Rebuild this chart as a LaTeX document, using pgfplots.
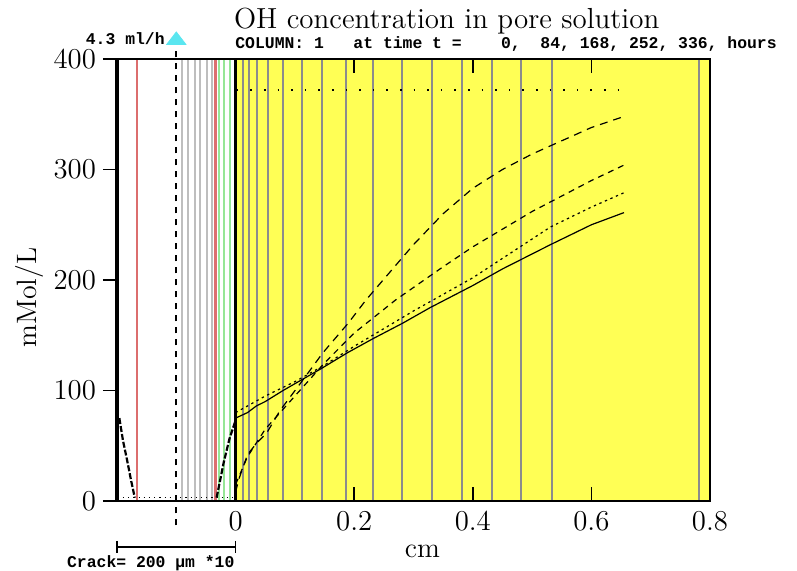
\documentclass[border=0pt]{standalone}
\usepackage{fontspec}
\setmonofont{Liberation Mono}
\usepackage{pgfplots}
\pgfplotsset{compat=1.18}
\definecolor{zoneyellow}{RGB}{255,255,85}
\definecolor{lgray}{RGB}{190,190,190}
\definecolor{mgray}{RGB}{140,140,140}
\definecolor{lred}{RGB}{220,110,110}
\definecolor{lgreen}{RGB}{150,230,150}
\definecolor{flowcyan}{RGB}{90,230,240}
\begin{document}
\begin{tikzpicture}
\begin{axis}[
    width=296.5pt, height=221pt, scale only axis,
    xmin=-0.2, xmax=0.8, ymin=0, ymax=400,
    xtick={0,0.2,0.4,0.6,0.8},
    ytick={0,100,200,300,400},
    xtick align=inside, ytick align=outside, ytick pos=left,
    major tick length=7pt,
    tick style={black, line width=0.8pt},
    tick label style={font=\fontsize{14}{16}\selectfont},
    xticklabel style={/pgf/number format/fixed, yshift=-2pt},
    axis line style={line width=0.8pt},
    xlabel={cm}, ylabel={mMol/L},
    label style={font=\fontsize{14}{16}\selectfont},
    xlabel style={at={(axis description cs:0.515,-0.113)}, anchor=center},
    ylabel style={at={(axis description cs:-0.147,0.46)}, anchor=center},
    clip=false,
    axis on top,
]
% concrete zone
\addplot[fill=zoneyellow, draw=none] coordinates {(0,0)(0.8,0)(0.8,400)(0,400)} \closedcycle;

% mesh lines in the crack
\pgfplotsinvokeforeach{-0.0896,-0.0795,-0.0693,-0.0592,-0.049,-0.0406}{
  \addplot[lgray, line width=1pt] coordinates {(#1,0)(#1,400)};
}
\addplot[lred, line width=0.7pt] coordinates {(-0.166,0)(-0.166,400)};
\addplot[lred, line width=1.6pt] coordinates {(-0.034,0)(-0.034,400)};
\pgfplotsinvokeforeach{-0.0287,-0.0203,-0.0101}{
  \addplot[lgreen, line width=1pt] coordinates {(#1,0)(#1,400)};
}
% mesh lines in the concrete
\pgfplotsinvokeforeach{0.0118,0.022,0.0355,0.054,0.0795,0.1116,0.145,0.186,0.232,0.281,0.331,0.382,0.433,0.482,0.533,0.781}{
  \addplot[mgray, line width=1pt] coordinates {(#1,0)(#1,400)};
}
\addplot[black, line width=1.6pt] coordinates {(-0.2,0)(-0.2,400)};
\addplot[black, line width=1.6pt] coordinates {(0,0)(0,400)};

% inflow position
\addplot[black, line width=0.8pt, dashed] coordinates {(-0.1,-22)(-0.1,412)};
\addplot[only marks, mark=triangle*, mark size=5.5pt, mark options={yscale=0.75, fill=flowcyan, draw=flowcyan}] coordinates {(-0.1,417)};

% t = 0
\addplot[black, line width=0.9pt, dash pattern=on 0.8pt off 6pt] coordinates {(0.002,372)(0.655,372)};
% profiles
\addplot[black, line width=0.6pt] coordinates {
(0,75)(0.02,80)(0.035,86)(0.05,90)(0.08,100)(0.145,120)(0.188,134)(0.232,147)
(0.282,161)(0.328,175)(0.4,195)(0.45,210)(0.531,232)(0.6,250)(0.655,261)};
\addplot[black, line width=0.6pt, dash pattern=on 1.2pt off 1.8pt] coordinates {
(0,80)(0.05,95)(0.1,108)(0.15,123)(0.2,140)(0.3,172)(0.4,202)(0.531,248)(0.6,266)(0.655,279)};
\addplot[black, line width=0.6pt, dash pattern=on 3pt off 2.5pt] coordinates {
(0,15)(0.02,40)(0.05,65)(0.1,95)(0.15,125)(0.2,152)(0.27,182)(0.35,212)(0.4,230)
(0.5,262)(0.6,290)(0.655,304)};
\addplot[black, line width=0.6pt, dash pattern=on 4pt off 3pt] coordinates {
(0,8)(0.005,19)(0.02,42)(0.035,52)(0.053,62)(0.075,82)(0.11,107)(0.147,134)(0.19,161)
(0.22,182)(0.3,232)(0.35,260)(0.4,283)(0.45,300)(0.5,314)(0.55,326)(0.6,338)(0.655,348)};

% crack profiles
\addplot[black, line width=1.1pt, dash pattern=on 3pt off 1pt] coordinates {
(-0.196,75)(-0.19,55)(-0.183,37)(-0.176,18)(-0.17,3)};
\addplot[black, line width=1.1pt, dash pattern=on 3pt off 1pt] coordinates {
(-0.032,3)(-0.02,35)(-0.01,57)(0,73)};
\addplot[black, line width=0.6pt, dotted] coordinates {(-0.19,3)(0,3)};

% texts
\node[font=\fontsize{14.5}{16}\selectfont, anchor=center] at (rel axis cs:0.556,1.085) {OH concentration in pore solution};
\node[font=\ttfamily\bfseries\fontsize{8.2}{9}\selectfont, anchor=west, inner sep=0pt] at (rel axis cs:0.199,1.034)
  {COLUMN:\ 1\ \ \ at\ time\ t\ =\ \ \ \ 0,\ \ 84,\ 168,\ 252,\ 336,\ hours};
\node[font=\ttfamily\bfseries\fontsize{8.2}{9}\selectfont, anchor=east, inner sep=0pt] at (rel axis cs:0.081,1.045) {4.3 ml/h};

% crack scale bar
\draw[black, line width=0.8pt] (axis cs:-0.2,-41.6) -- (axis cs:0,-41.6);
\draw[black, line width=0.8pt] (axis cs:-0.2,-36) -- (axis cs:-0.2,-47);
\draw[black, line width=0.8pt] (axis cs:0,-36) -- (axis cs:0,-47);
\node[font=\ttfamily\bfseries\fontsize{8.2}{9}\selectfont, anchor=center, inner sep=0pt] at (rel axis cs:0.057,-0.14) {Crack= 200 µm *10};
\end{axis}
\pgfresetboundingbox
\path (-58.5pt,-34.5pt) rectangle (340pt,250.5pt);
\end{tikzpicture}
\end{document}
